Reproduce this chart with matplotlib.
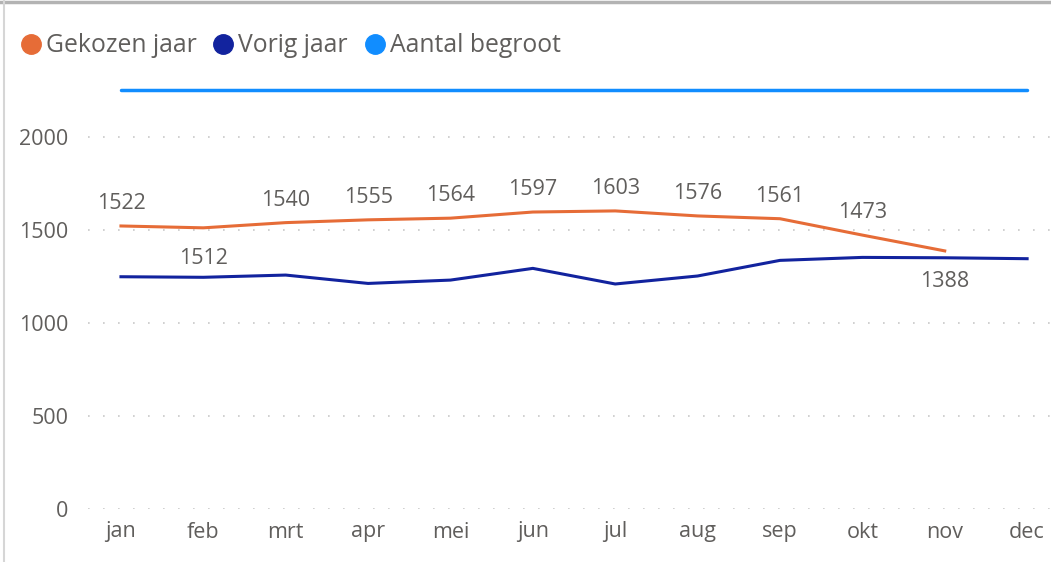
import numpy as np
import matplotlib.pyplot as plt
from matplotlib.lines import Line2D

plt.rcParams['font.family'] = ['Open Sans', 'DejaVu Sans']

months = ['jan', 'feb', 'mrt', 'apr', 'mei', 'jun', 'jul', 'aug', 'sep', 'okt', 'nov', 'dec']
gekozen_jaar = [1522, 1512, 1540, 1555, 1564, 1597, 1603, 1576, 1561, 1473, 1388]
vorig_jaar = [1249, 1246, 1258, 1213, 1231, 1294, 1210, 1253, 1337, 1353, 1351, 1346]
aantal_begroot = [2255] * 12
# which data labels sit under the line
label_below = ['feb', 'nov']

c_orange = '#E66C37'
c_navy = '#12239E'
c_blue = '#118DFF'
c_text = '#605E5C'

fig = plt.figure(figsize=(10.51, 5.62), dpi=100)
ax = fig.add_axes([88 / 1051, (562 - 509) / 562, (1051 - 88) / 1051, (509 - 72) / 562])

x = np.arange(len(months))
ax.plot(x, aantal_begroot, color=c_blue, lw=2.5, solid_capstyle='round')
ax.plot(x, vorig_jaar, color=c_navy, lw=2.2, solid_joinstyle='round')
ax.plot(x[:len(gekozen_jaar)], gekozen_jaar, color=c_orange, lw=2.2, solid_joinstyle='round')

for i, v in enumerate(gekozen_jaar):
    if months[i] in label_below:
        off, va = -20, 'top'
    else:
        off, va = 12, 'bottom'
    ax.annotate(str(v), (x[i], v), xytext=(0, off), textcoords='offset pixels',
                ha='center', va=va, fontsize=15.5, color=c_text)

ax.set_xlim(-0.4, 11.29)
ax.set_ylim(0, 2350)
ax.set_yticks([0, 500, 1000, 1500, 2000])
ax.set_xticks(x)
ax.set_xticklabels(months)
ax.tick_params(length=0, labelsize=15.5, labelcolor=c_text)
ax.tick_params(axis='y', pad=14)
ax.tick_params(axis='x', pad=9)
ax.grid(axis='y', color='#C8C8C8', linestyle=(0, (1, 8)), lw=1.2)
for s in ax.spines.values():
    s.set_visible(False)

handles = [Line2D([], [], marker='o', ls='', color=c, markersize=14)
           for c in (c_orange, c_navy, c_blue)]
fig.legend(handles, ['Gekozen jaar', 'Vorig jaar', 'Aantal begroot'],
           loc='upper left', bbox_to_anchor=(1 / 1051, 1 - 11 / 562), ncol=3,
           frameon=False, handlelength=0.6, handletextpad=0.3, columnspacing=0.8,
           prop={'size': 17.8}, labelcolor=c_text)

# frame edges of the visual
fig.add_artist(Line2D([0, 1], [1 - 1.5 / 562, 1 - 1.5 / 562], color='#B3B3B3', lw=2.5))
fig.add_artist(Line2D([4 / 1051, 4 / 1051], [0, 1], color='#D6D6D6', lw=1.5))

fig.savefig('out.png', dpi=100)
